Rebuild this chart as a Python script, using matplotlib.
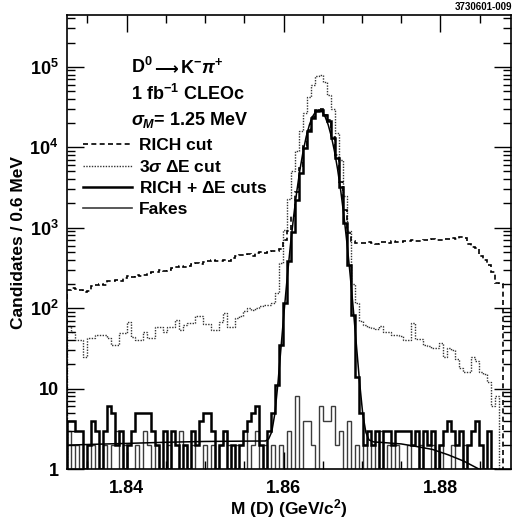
import numpy as np
import matplotlib.pyplot as plt
from matplotlib.ticker import FixedLocator, MultipleLocator, LogLocator, NullFormatter

plt.rcParams['font.family'] = ['Liberation Sans', 'DejaVu Sans']
plt.rcParams['font.weight'] = 'bold'
plt.rcParams['mathtext.fontset'] = 'custom'
plt.rcParams['mathtext.rm'] = 'Liberation Sans:bold'
plt.rcParams['mathtext.it'] = 'Liberation Sans:bold:italic'
plt.rcParams['mathtext.bf'] = 'Liberation Sans:bold'

# bin edges as they sit on the drawn axis
x_lo = 1.832355
bin_w = 0.00051

# RICH cut only (dashed)
rich = [170, 180, 175, 170, 160, 165, 190, 195, 200, 195,
        215, 220, 225, 220, 240, 250, 245, 255, 250, 260,
        270, 285, 280, 295, 290, 300, 315, 320, 330, 325,
        335, 350, 360, 355, 370, 380, 400, 390, 380, 400,
        390, 420, 440, 460, 460, 470, 450, 490, 500, 490,
        500, 510, 520, 540, 700, 900, 1400, 2800, 5500, 10500,
        16500, 23500, 29000, 29500, 25500, 21500, 13500, 7900, 3700, 1650,
        850, 680, 650, 640, 640, 660, 650, 630, 660, 670,
        650, 680, 670, 660, 690, 680, 700, 690, 680, 710,
        700, 720, 710, 700, 730, 720, 740, 730, 760, 740,
        620, 580, 560, 450, 400, 340, 280, 205, 200, 0, 0]

# 3 sigma Delta E cut (dotted)
de_cut = [60, 50, 40, 40, 25, 43, 43, 46, 46, 46,
          42, 35, 35, 49, 49, 68, 44, 40, 40, 51,
          42, 42, 58, 58, 51, 59, 59, 71, 54, 62,
          66, 66, 79, 79, 64, 64, 54, 54, 68, 87,
          59, 59, 75, 80, 91, 100, 95, 100, 105, 110,
          110, 115, 155, 365, 940, 2300, 5000, 9000, 16000, 27000,
          42000, 60000, 76000, 78000, 65000, 45000, 30000, 15000, 7000, 2500,
          900, 200, 117, 70, 62, 58, 57, 55, 60, 51,
          51, 46, 46, 45, 40, 40, 66, 41, 41, 35,
          34, 32, 32, 37, 25, 32, 30, 23, 18, 16,
          16, 25, 22, 16, 15, 12, 6, 8, 0, 0, 0]

# RICH + Delta E cuts (thick solid)
both = [4, 4, 3, 3, 1, 2, 4, 3, 1, 3,
        6, 5, 2, 3, 1, 2, 3, 5, 5, 5,
        5, 3, 2, 1, 3, 1, 3, 2, 1, 2,
        1, 3, 2, 4, 5, 5, 3, 1, 2, 3,
        1, 2, 1, 2, 3, 4, 5, 6, 2, 1,
        3, 5, 11, 35, 117, 380, 890, 2200, 4800, 9800,
        16000, 23000, 28500, 29000, 25000, 21000, 13000, 7400, 3200, 1150,
        345, 83, 14, 5, 2, 3, 2, 3, 1, 3,
        3, 2, 3, 3, 3, 3, 2, 3, 1, 3,
        2, 3, 1, 2, 3, 4, 3, 2, 3, 1,
        2, 3, 4, 2, 1, 3, 1, 0, 0, 0, 0]

# fakes (thin grey)
fakes = [3, 1, 2, 0, 1, 0, 2, 1, 1, 2,
         1, 2, 3, 1, 2, 0, 1, 2, 1, 3,
         2, 1, 2, 0, 1, 2, 1, 1, 3, 2,
         1, 2, 0, 1, 2, 1, 2, 1, 2, 3,
         2, 1, 2, 2, 3, 1, 2, 3, 1, 2,
         1, 2, 1, 2, 1, 3, 1, 8, 1, 4,
         4, 2, 1, 6, 4, 4, 6, 2, 3, 1,
         4, 1, 2, 1, 2, 1, 2, 1, 3, 1,
         2, 1, 2, 1, 1, 2, 1, 1, 2, 1,
         1, 2, 1, 2, 1, 1, 2, 1, 1, 2,
         1, 1, 0, 1, 0, 0, 0, 0, 0, 0, 0]

# fit curve
fit_x = [1.8324, 1.836, 1.840, 1.845, 1.850, 1.855, 1.8577,
         1.8581, 1.8585, 1.8589, 1.8593, 1.8597, 1.8601, 1.8605, 1.8609,
         1.8613, 1.8617, 1.8621, 1.8625, 1.8629, 1.8633, 1.8637, 1.8641,
         1.8645,
         1.8649, 1.8653, 1.8657, 1.8661, 1.8665, 1.8669, 1.8673, 1.8677,
         1.8681, 1.8685, 1.8689, 1.8693, 1.8697, 1.8701, 1.8705, 1.8709,
         1.8715, 1.8725, 1.875, 1.877, 1.879, 1.881, 1.883, 1.8849, 1.8855]
fit_y = [1.98, 2.03, 2.08, 2.15, 2.2, 2.22, 2.23,
         2.36, 2.9, 4.9, 11.9, 34, 96.5, 257, 629,
         1403, 2853, 5282, 8882, 13602, 18942, 24000, 27662,
         29002,
         27662, 24000, 18942, 13602, 8882, 5282, 2853, 1403,
         629, 257, 96.5, 34, 11.9, 4.85, 2.85, 2.3,
         2.17, 2.14, 2.05, 1.9, 1.75, 1.5, 1.25, 1.0, 0.9]

edges = x_lo + bin_w * np.arange(len(both) + 1)


def hist(ax, vals, **kw):
    v = np.asarray(vals, dtype=float)
    v = np.where(v > 0, v, 1e-2)
    ax.stairs(v, edges, baseline=1e-2, **kw)


fig = plt.figure(figsize=(5.18, 5.23), dpi=100)
ax = fig.add_axes([67 / 518, 1 - 469 / 523, 444 / 518, 454 / 523])

hist(ax, fakes, color='#3c3c3c', lw=1.0)
hist(ax, de_cut, color='#333333', lw=1.0, linestyle=(0, (1, 1)))
hist(ax, rich, color='black', lw=1.2, linestyle=(0, (3, 2)))
hist(ax, both, color='black', lw=1.8)
ax.plot(fit_x, fit_y, color='black', lw=1.1)

ax.set_yscale('log')
ax.set_xlim(1.8324, 1.889)
ax.set_ylim(1, 4.4e5)

ax.xaxis.set_major_locator(FixedLocator([1.84, 1.86, 1.88]))
ax.xaxis.set_minor_locator(MultipleLocator(0.005))
ax.set_xticklabels(['1.84', '1.86', '1.88'])
ax.yaxis.set_major_locator(FixedLocator([1, 10, 100, 1e3, 1e4, 1e5]))
ax.set_yticklabels(['1', '10', '$10^{2}$', '$10^{3}$', '$10^{4}$', '$10^{5}$'])
ax.yaxis.set_minor_locator(LogLocator(base=10, subs=np.arange(2, 10), numticks=20))
ax.yaxis.set_minor_formatter(NullFormatter())
ax.tick_params(which='both', direction='in', top=True, right=True, width=1, labelsize=13)
ax.tick_params(which='major', length=12, pad=6)
ax.tick_params(axis='x', which='major', pad=8)
ax.tick_params(which='minor', length=6)
for s in ax.spines.values():
    s.set_linewidth(1.2)

ax.set_xlabel('M (D) (GeV/c$^{2}$)', fontsize=12.5, fontweight='bold')
ax.set_ylabel('Candidates / 0.6 MeV', fontsize=12.5, fontweight='bold')
ax.xaxis.set_label_coords(0.5, -0.062)
ax.yaxis.set_label_coords(-0.092, 0.5)

# decay label in three pieces so the long arrow can come from DejaVu Sans
fig.text(131 / 518, 1 - 67 / 523, 'D$^{0}$', fontsize=13, va='center')
fig.text(154 / 518, 1 - 69 / 523, '\u27f6', fontsize=12, va='center',
         family=['DejaVu Sans'])
fig.text(180 / 518, 1 - 67 / 523, r'K$^{-}$$\pi^{+}$', fontsize=13, va='center')
fig.text(131 / 518, 1 - 94 / 523, '1 fb$^{-1}$ CLEOc', fontsize=13, va='center')
fig.text(131 / 518, 1 - 120 / 523, r'$\sigma_{M}$= 1.25 MeV', fontsize=13, va='center')
fig.text(512 / 518, 1 - 7 / 523, '3730601-009', fontsize=7, ha='right', va='center')

handles = [
    plt.Line2D([], [], color='black', lw=1.2, linestyle=(0, (3, 2))),
    plt.Line2D([], [], color='#333333', lw=1.0, linestyle=(0, (1, 1))),
    plt.Line2D([], [], color='black', lw=1.8),
    plt.Line2D([], [], color='#3c3c3c', lw=1.2),
]
labels = ['RICH cut', r'3$\sigma$ $\Delta$E cut', r'RICH + $\Delta$E cuts', 'Fakes']
ax.legend(handles, labels, loc='upper left', bbox_to_anchor=(83 / 518, 1 - 138 / 523),
          bbox_transform=fig.transFigure, frameon=False, borderpad=0, borderaxespad=0,
          handlelength=2.8, handletextpad=0.4, labelspacing=0.32,
          prop={'size': 12.5, 'weight': 'bold'})

fig.savefig('out.png', dpi=100)
